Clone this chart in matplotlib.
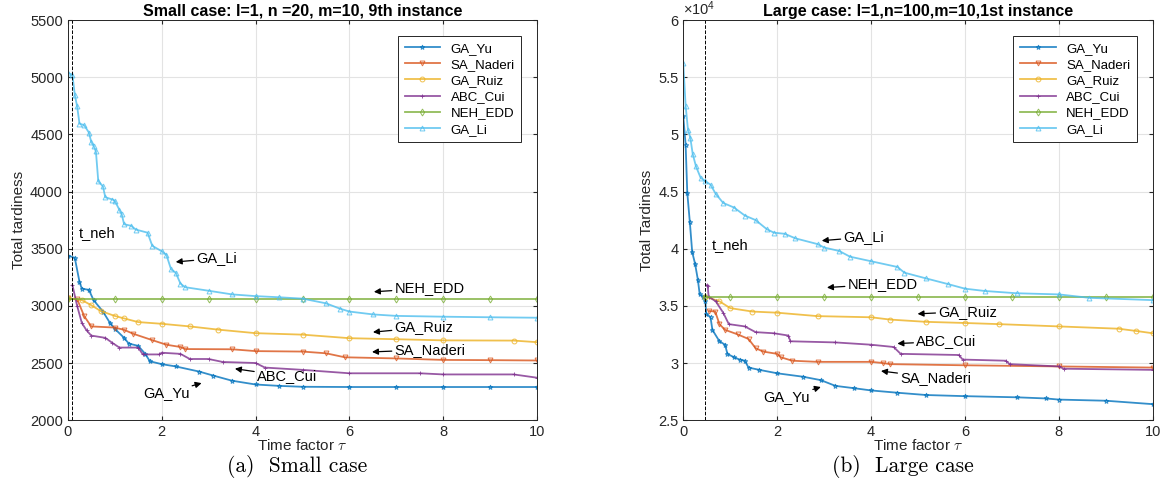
import numpy as np
import matplotlib
matplotlib.use("Agg")
import matplotlib.pyplot as plt
from matplotlib.ticker import FuncFormatter

plt.rcParams['font.family'] = ['Liberation Sans', 'DejaVu Sans']
plt.rcParams['mathtext.fontset'] = 'cm'

names = ['GA_Yu', 'SA_Naderi', 'GA_Ruiz', 'ABC_Cui', 'NEH_EDD', 'GA_Li']
colors = ['#0072BD', '#D95319', '#EDB120', '#7E2F8E', '#77AC30', '#4DBEEE']
markers = ['*', 'v', 'o', '+', 'd', '^']

# ---- small case (l=1, n=20, m=10, 9th instance) ----
s_yu_x = [0, 0.15, 0.25, 0.3, 0.45, 0.55, 0.75, 0.9, 1.0, 1.2, 1.3, 1.5, 1.65, 1.75, 2.0, 2.3, 2.8, 3.1, 3.5, 4.0, 4.5, 5.0, 6, 7, 8, 9, 10]
s_yu_y = [3440, 3420, 3210, 3150, 3140, 3050, 2950, 2850, 2800, 2720, 2670, 2650, 2580, 2515, 2490, 2470, 2425, 2390, 2345, 2312, 2300, 2292, 2290, 2290, 2290, 2290, 2290]

s_na_x = [0, 0.2, 0.35, 0.5, 1.0, 1.2, 1.4, 1.8, 2.1, 2.4, 2.5, 3.5, 4.0, 5.0, 5.5, 5.9, 7, 8, 9, 10]
s_na_y = [3065, 3060, 2910, 2820, 2810, 2790, 2755, 2700, 2660, 2640, 2622, 2620, 2604, 2600, 2585, 2550, 2540, 2527, 2525, 2522]

s_ru_x = [0, 0.3, 0.5, 0.7, 1.0, 1.2, 1.5, 2.0, 2.6, 3.2, 4.0, 5.0, 6.0, 7.0, 8.0, 9.5, 10]
s_ru_y = [3065, 3050, 3006, 2955, 2912, 2890, 2858, 2843, 2820, 2792, 2761, 2748, 2717, 2708, 2698, 2696, 2682]

s_abc_x = [0.1, 0.2, 0.3, 0.4, 0.5, 0.8, 0.95, 1.1, 1.5, 1.6, 1.95, 2.0, 2.4, 2.6, 3.0, 3.3, 4.0, 4.2, 5.0, 6.0, 7.5, 8.0, 9.5, 10]
s_abc_y = [3180, 3000, 2850, 2786, 2740, 2720, 2676, 2635, 2635, 2575, 2575, 2590, 2580, 2535, 2535, 2509, 2500, 2460, 2440, 2410, 2410, 2400, 2400, 2371]

s_neh_x = [0, 1, 2, 3, 4, 5, 6, 7, 8, 9, 10]
s_neh_y = [3057, 3057, 3057, 3057, 3057, 3057, 3057, 3057, 3057, 3057, 3057]

s_li_x = [0, 0.1, 0.15, 0.2, 0.25, 0.35, 0.45, 0.5, 0.55, 0.6, 0.65, 0.75, 0.8, 0.95, 1.0, 1.1, 1.15, 1.2, 1.35, 1.45, 1.7, 1.8, 2.0, 2.1, 2.2, 2.3, 2.4, 2.5, 3.0, 3.5, 4.0, 4.5, 5.0, 5.5, 5.8, 6.0, 6.5, 7.0, 8.0, 9.0, 10]
s_li_y = [5040, 5020, 4846, 4745, 4594, 4580, 4516, 4434, 4400, 4350, 4091, 4044, 3950, 3930, 3920, 3840, 3800, 3714, 3700, 3667, 3640, 3525, 3478, 3447, 3320, 3290, 3195, 3163, 3132, 3100, 3085, 3075, 3063, 3022, 2975, 2950, 2925, 2912, 2905, 2900, 2896]

# ---- large case (l=1, n=100, m=10, 1st instance) ----
l_yu_x = [0, 0.05, 0.085, 0.14, 0.19, 0.25, 0.31, 0.35, 0.42, 0.47, 0.49, 0.58, 0.62, 0.77, 0.89, 0.94, 1.08, 1.2, 1.31, 1.39, 1.62, 2.0, 2.55, 2.93, 3.24, 3.63, 4.0, 4.56, 5.17, 6.0, 7.1, 7.72, 8.0, 9.0, 10]
l_yu_y = [51570, 49100, 44900, 42300, 39700, 38700, 37300, 36000, 35800, 35400, 34300, 34000, 32900, 31900, 31600, 30800, 30500, 30300, 30200, 29600, 29400, 29100, 28800, 28500, 28000, 27800, 27600, 27400, 27200, 27100, 27000, 26900, 26800, 26700, 26400]

l_na_x = [0.55, 0.68, 0.77, 0.89, 1.16, 1.39, 1.54, 1.7, 2.0, 2.08, 2.32, 2.86, 4.0, 4.25, 4.4, 6.0, 8.0, 10]
l_na_y = [34550, 34500, 33400, 32900, 32500, 32100, 31300, 31000, 30800, 30500, 30200, 30100, 30100, 30000, 29900, 29800, 29700, 29600]

l_ru_x = [0.47, 0.77, 1.0, 1.47, 2.0, 2.86, 4.0, 4.4, 5.17, 6.0, 6.72, 8.0, 9.27, 9.65, 10]
l_ru_y = [35800, 35400, 34800, 34500, 34400, 34100, 34000, 33800, 33600, 33500, 33400, 33200, 33000, 32800, 32600]

l_abc_x = [0.5, 0.52, 0.54, 0.69, 0.85, 0.97, 1.31, 1.54, 1.93, 2.24, 2.28, 3.24, 4.0, 4.48, 4.63, 5.87, 5.95, 6.87, 6.95, 8.0, 8.1, 10]
l_abc_y = [36800, 36700, 35800, 35400, 34400, 33400, 33200, 32700, 32600, 32400, 31900, 31800, 31600, 31400, 30800, 30700, 30300, 30200, 29900, 29700, 29500, 29400]

l_neh_x = [0.47, 1, 2, 3, 4, 5, 6, 7, 8, 9, 10]
l_neh_y = [35790, 35790, 35790, 35790, 35790, 35790, 35790, 35790, 35790, 35790, 35790]

l_li_x = [0, 0.05, 0.1, 0.15, 0.2, 0.27, 0.37, 0.47, 0.58, 0.69, 0.85, 1.08, 1.31, 1.54, 1.78, 1.93, 2.16, 2.39, 2.86, 3.0, 3.32, 3.55, 4.0, 4.56, 4.71, 5.17, 5.64, 6.0, 6.42, 7.1, 8.0, 8.65, 10]
l_li_y = [56200, 52500, 50400, 49700, 48300, 47200, 46200, 45900, 45600, 44800, 44000, 43600, 42900, 42500, 41700, 41400, 41300, 40900, 40400, 40100, 39800, 39300, 38900, 38400, 37900, 37400, 36900, 36500, 36300, 36100, 36000, 35700, 35500]

small_x = [s_yu_x, s_na_x, s_ru_x, s_abc_x, s_neh_x, s_li_x]
small_y = [s_yu_y, s_na_y, s_ru_y, s_abc_y, s_neh_y, s_li_y]
large_x = [l_yu_x, l_na_x, l_ru_x, l_abc_x, l_neh_x, l_li_x]
large_y = [l_yu_y, l_na_y, l_ru_y, l_abc_y, l_neh_y, l_li_y]

# annotation: label, text position, arrow tip
small_notes = [('GA_Li', (2.74, 3415), (2.3, 3384)),
               ('NEH_EDD', (6.96, 3154), (6.52, 3123)),
               ('GA_Ruiz', (6.96, 2811), (6.5, 2770)),
               ('SA_Naderi', (6.96, 2617), (6.48, 2597)),
               ('ABC_Cui', (4.03, 2384), (3.56, 2450)),
               ('GA_Yu', (1.6, 2236), (2.85, 2324))]
large_notes = [('GA_Li', (3.41, 41000), (2.95, 40700)),
               ('NEH_EDD', (3.5, 36900), (3.06, 36600)),
               ('GA_Ruiz', (5.43, 34500), (4.99, 34300)),
               ('ABC_Cui', (4.96, 31900), (4.56, 31700)),
               ('SA_Naderi', (4.62, 28700), (4.21, 29300)),
               ('GA_Yu', (1.71, 27000), (2.93, 27900))]


def draw_panel(ax, xs, ys, notes, t_neh, tneh_y, title, ylabel):
    for i in range(len(names)):
        ax.plot(xs[i], ys[i], color=colors[i], marker=markers[i], markersize=3.5,
                linewidth=1.3, markerfacecolor='none', markeredgewidth=0.7,
                alpha=0.8, label=names[i])
    ax.axvline(t_neh, color='k', linestyle='--', linewidth=0.7)
    ax.text(t_neh + 0.14, tneh_y, 't_neh', fontsize=10.5, va='center')
    for lab, xt, xy in notes:
        ax.annotate(lab, xy=xy, xytext=xt, fontsize=10.5, va='center', ha='left',
                    arrowprops=dict(arrowstyle='-|>', color='k', lw=0.9,
                                    mutation_scale=9, shrinkA=0, shrinkB=0))
    ax.set_xlim(0, 10)
    ax.set_xticks([0, 2, 4, 6, 8, 10])
    ax.grid(True, color='#e3e3e3', linewidth=0.8)
    ax.set_axisbelow(True)
    ax.tick_params(direction='in', top=True, right=True, labelsize=10.5, length=3,
                   color='#262626', labelcolor='#262626')
    for sp in ax.spines.values():
        sp.set_color('#262626')
        sp.set_linewidth(0.7)
    ax.set_xlabel(r'Time factor $\tau$', fontsize=11, labelpad=-1, color='#262626')
    ax.set_ylabel(ylabel, fontsize=11, labelpad=3, color='#262626')
    ax.set_title(title, fontsize=11.5, fontweight='bold', pad=3)
    leg = ax.legend(loc='upper right', fontsize=9.5, fancybox=False, framealpha=1,
                    edgecolor='#262626', borderaxespad=1.2, handlelength=2.7,
                    labelspacing=0.3, borderpad=0.5)
    leg.get_frame().set_linewidth(0.7)


fig = plt.figure(figsize=(11.68, 4.88), dpi=100)
ax1 = fig.add_axes([0.058, 0.139, 0.402, 0.82])
ax2 = fig.add_axes([0.585, 0.139, 0.402, 0.82])

draw_panel(ax1, small_x, small_y, small_notes, 0.1, 3635,
           'Small case: l=1, n =20, m=10, 9th instance', 'Total tardiness')
ax1.set_ylim(2000, 5500)
ax1.set_yticks([2000, 2500, 3000, 3500, 4000, 4500, 5000, 5500])

draw_panel(ax2, large_x, large_y, large_notes, 0.47, 40300,
           'Large case: l=1,n=100,m=10,1st instance', 'Total Tardiness')
ax2.set_ylim(25000, 60000)
ax2.set_yticks([25000, 30000, 35000, 40000, 45000, 50000, 55000, 60000])
ax2.yaxis.set_major_formatter(FuncFormatter(lambda v, p: '%g' % (v / 1e4)))
ax2.text(0.0, 1.005, r'$\mathregular{\times10^4}$', transform=ax2.transAxes,
         fontsize=10.5, va='bottom', ha='left', color='#262626')

fig.text(0.254, 0.045, '(a)  Small case', fontsize=15.5, ha='center', va='center',
         family='cmr10')
fig.text(0.773, 0.045, '(b)  Large case', fontsize=15.5, ha='center', va='center',
         family='cmr10')

fig.savefig('out.png', dpi=100)
